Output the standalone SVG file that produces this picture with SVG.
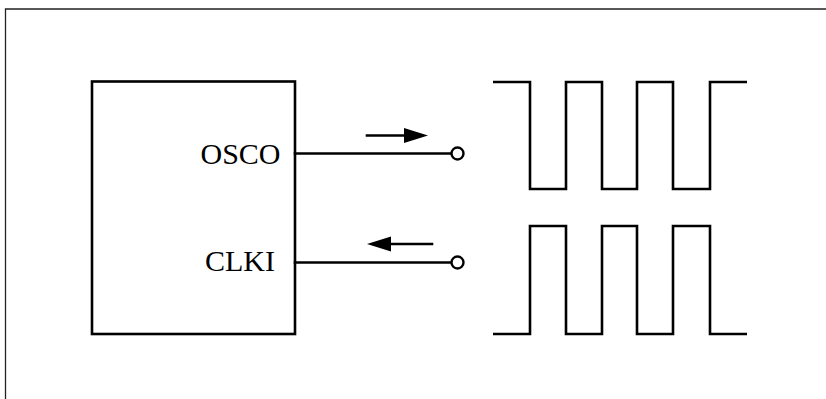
<svg xmlns="http://www.w3.org/2000/svg" width="826" height="399" viewBox="0 0 826 399">
<defs>
<style>
.ln{fill:none;stroke:#000;stroke-width:2.6;stroke-linejoin:miter;stroke-linecap:square}
.wave{fill:none;stroke:#000;stroke-width:2.6;stroke-linejoin:miter;stroke-linecap:butt}
.frame{fill:none;stroke:#222;stroke-width:1.3}
.lbl{font-family:"Liberation Serif","Times New Roman",serif;font-size:30px;fill:#000}
.term{fill:#fff;stroke:#000;stroke-width:2.4}
</style>
</defs>
<rect width="826" height="399" fill="#fff"/>
<path class="frame" d="M5.5,399 V9 H826"/>
<g id="chip">
<rect class="ln" x="92" y="81.5" width="203" height="252.5"/>
<text class="lbl" x="240.5" y="163.5" text-anchor="middle">OSCO</text>
<text class="lbl" x="240" y="271" text-anchor="middle">CLKI</text>
</g>
<g id="connectors">
<line class="ln" x1="295" y1="153.5" x2="451" y2="153.5"/>
<line class="ln" x1="295" y1="262.5" x2="451" y2="262.5"/>
<line class="ln" x1="367" y1="135.5" x2="406" y2="135.5"/>
<polygon points="404,128 428,135.5 404,143" fill="#000"/>
<line class="ln" x1="390" y1="244" x2="432" y2="244"/>
<polygon points="391,236.5 367,244 391,251.5" fill="#000"/>
</g>
<g id="osco-terminal"><circle class="term" cx="457.5" cy="153.5" r="6"/></g>
<g id="clki-terminal"><circle class="term" cx="457.5" cy="262.5" r="6"/></g>
<g id="osco-wave">
<path class="wave" d="M493,82 H530 V189 H566 V82 H602 V189 H637 V82 H673 V189 H710 V82 H747"/>
</g>
<g id="clki-wave">
<path class="wave" d="M493,334 H530 V226 H566 V334 H602 V226 H637 V334 H673 V226 H710 V334 H747"/>
</g>
</svg>
